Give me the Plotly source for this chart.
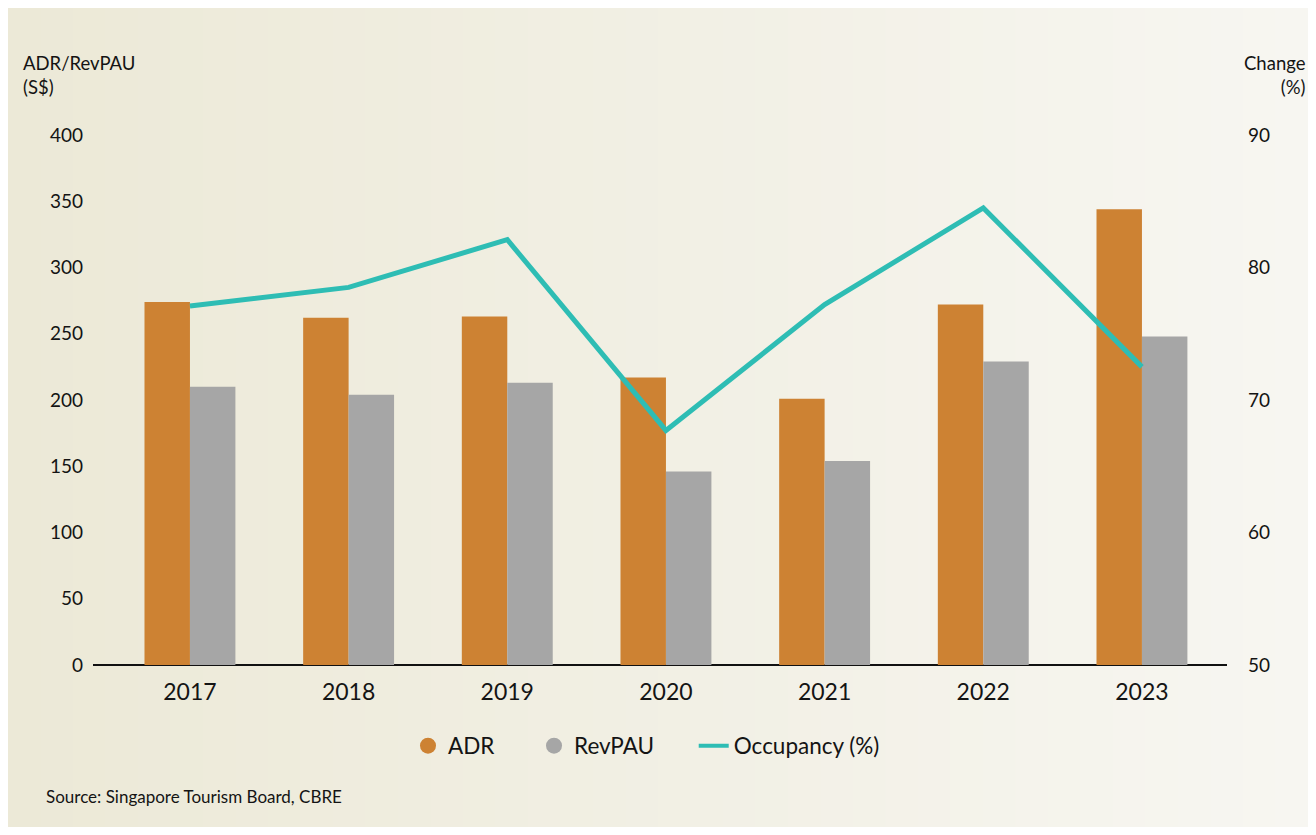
import plotly.graph_objects as go

years = ["2017", "2018", "2019", "2020", "2021", "2022", "2023"]
adr = [274, 262, 263, 217, 201, 272, 344]
revpau = [210, 204, 213, 146, 154, 229, 248]
occupancy = [77.1, 78.5, 82.1, 67.7, 77.2, 84.5, 72.5]

ORANGE = "#CD8233"
GREY = "#A6A6A6"
TEAL = "#2EBDB4"
FONT = "Lato"
PAD = "\u00a0" * 6

W, H = 1300, 819
L, R, T, B = 85, 81, 127, 162
pw, ph = W - L - R, H - T - B

fig = go.Figure()

fig.add_trace(go.Bar(x=years, y=adr, name="ADR", marker=dict(color=ORANGE, line_width=0),
                     showlegend=False))
fig.add_trace(go.Bar(x=years, y=revpau, name="RevPAU", marker=dict(color=GREY, line_width=0),
                     showlegend=False))
fig.add_trace(go.Scatter(x=years, y=occupancy, name="Occupancy (%)", mode="lines",
                         line=dict(color=TEAL, width=5), yaxis="y2", showlegend=False))

# legend entries (circles for the bars)
fig.add_trace(go.Scatter(x=[None], y=[None], mode="markers", name="ADR" + PAD,
                         marker=dict(color=ORANGE, size=19, symbol="circle")))
fig.add_trace(go.Scatter(x=[None], y=[None], mode="markers", name="RevPAU" + PAD,
                         marker=dict(color=GREY, size=19, symbol="circle")))
fig.add_trace(go.Scatter(x=[None], y=[None], mode="lines", name="Occupancy (%)",
                         line=dict(color=TEAL, width=4)))


def px2x(p):
    return (p - L) / pw


def px2y(p):
    return 1 - (p - T) / ph


# soft cream background, fading to the right
c0 = (236, 233, 215)
c1 = (247, 246, 241)
n = 40
for i in range(n):
    t = i / (n - 1)
    col = tuple(round(c0[k] + (c1[k] - c0[k]) * t) for k in range(3))
    xa = W * i / n
    xb = W * (i + 1) / n + 1
    fig.add_shape(type="rect", xref="paper", yref="paper",
                  x0=px2x(xa), x1=px2x(xb), y0=px2y(H + 2), y1=px2y(-2),
                  fillcolor="rgb(%d,%d,%d)" % col, line_width=0, layer="below")

fig.update_layout(
    width=W, height=H,
    margin=dict(l=L, r=R, t=T, b=B),
    paper_bgcolor="rgb(247,246,241)",
    plot_bgcolor="rgba(0,0,0,0)",
    font=dict(family=FONT, color="#141414"),
    barmode="group",
    bargap=0.427,
    bargroupgap=0,
    xaxis=dict(range=[-0.611, 6.536], showgrid=False, showline=False, ticks="",
               tickfont=dict(size=23), zeroline=False, ticklabelstandoff=11),
    yaxis=dict(range=[0, 400], dtick=50, showgrid=False, zeroline=True,
               zerolinecolor="#111111", zerolinewidth=1.5, showline=False,
               ticks="", tickfont=dict(size=19), ticklabelstandoff=9),
    yaxis2=dict(range=[50, 90], dtick=10, overlaying="y", side="right",
                showgrid=False, zeroline=False, showline=False, ticks="",
                tickfont=dict(size=19), ticklabelstandoff=20),
    legend=dict(orientation="h", x=px2x(400), xanchor="left", y=px2y(738), yanchor="middle",
                font=dict(size=22.5), bgcolor="rgba(0,0,0,0)", itemwidth=30,
                tracegroupgap=0),
    annotations=[
        dict(text="ADR/RevPAU<br>(S$)", xref="paper", yref="paper",
             x=px2x(13), y=px2y(42), xanchor="left", yanchor="top", align="left",
             showarrow=False, font=dict(size=18.5)),
        dict(text="Change<br>(%)", xref="paper", yref="paper",
             x=px2x(1300), y=px2y(42), xanchor="right", yanchor="top", align="right",
             showarrow=False, font=dict(size=18.5)),
        dict(text="Source: Singapore Tourism Board, CBRE", xref="paper", yref="paper",
             x=px2x(36), y=px2y(788), xanchor="left", yanchor="middle",
             showarrow=False, font=dict(size=17)),
    ],
)

fig.write_html("out.html")
